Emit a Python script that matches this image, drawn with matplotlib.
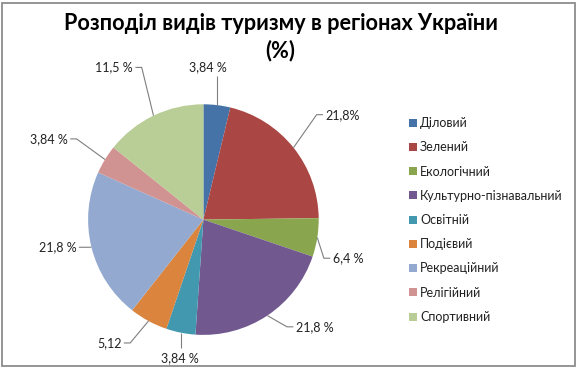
import numpy as np
import matplotlib
matplotlib.use("Agg")
import matplotlib.pyplot as plt
from matplotlib.patches import Rectangle

# ---- data (slice shares, printed labels as shown) ----
categories = ["Діловий", "Зелений", "Екологічний", "Культурно-пізнавальний",
              "Освітній", "Подієвий", "Рекреаційний", "Релігійний", "Спортивний"]
shares = [3.75, 21.05, 5.4, 20.9, 4.1, 5.4, 21.1, 4.05, 14.25]
value_labels = ["3,84 %", "21,8%", "6,4 %", "21,8 %", "3,84 %", "5,12",
                "21,8 %", "3,84 %", "11,5 %"]
colors = ["#4572A7", "#AA4643", "#89A54E", "#71588F", "#4198AF",
          "#DB843D", "#93A9CF", "#D19392", "#B9CD96"]
title = "Розподіл видів туризму в регіонах України\n(%)"

# ---- layout ----
W, H = 577, 369
plt.rcParams['font.family'] = ['Lato', 'DejaVu Sans']
fig = plt.figure(figsize=(W / 100, H / 100), dpi=100)
ax = fig.add_axes([0, 0, 1, 1])

cx, cy, R = 203.4, H - 219.6, 115.3  # pie centre / radius in pixels
wedges, _ = ax.pie(shares, colors=colors, startangle=90, counterclock=False,
                   radius=1, wedgeprops=dict(linewidth=0))
ax.set_xlim(-cx / R, (W - cx) / R)
ax.set_ylim(-cy / R, (H - cy) / R)
ax.set_aspect('auto')
ax.axis('off')

# label placement (data units relative to pie radius)
label_pos = [(0.04, 1.32, 'center'), (1.057, 0.91, 'left'), (1.12, -0.335, 'left'),
             (0.80, -0.93, 'left'), (-0.20, -1.20, 'center'), (-0.71, -1.07, 'right'),
             (-1.10, -0.24, 'right'), (-1.175, 0.70, 'right'), (-0.61, 1.32, 'right')]
lead_col = '#7f7f7f'
for w, txt, (tx, ty, ha) in zip(wedges, value_labels, label_pos):
    th = np.deg2rad((w.theta1 + w.theta2) / 2)
    axp, ayp = np.cos(th), np.sin(th)
    if ha == 'center':
        ey = ty - 0.078 if ty > 0 else ty + 0.085
        xs, ys = [axp, axp], [ayp, ey]
    else:
        s = -1 if ha == 'left' else 1
        edge = tx + s * 0.02
        elbow = tx + s * 0.075
        xs, ys = [axp, elbow, edge], [ayp, ty, ty]
    ax.plot(xs, ys, color=lead_col, lw=0.8, solid_capstyle='butt')
    ax.text(tx, ty, txt, ha=ha, va='center', fontsize=9, color='#222222')

fig.text(280.5 / W, 1 - 37 / H, title, ha='center', va='center', fontsize=15.6,
         fontweight='bold', color='black', linespacing=1.32)

fig.legend(wedges, categories, loc='upper left', bbox_to_anchor=(409 / W, 1 - 117 / H),
           frameon=False, fontsize=9, handlelength=0.6, handleheight=0.6,
           handletextpad=0.3, labelspacing=0.98, borderpad=0, borderaxespad=0,
           labelcolor='#222222')

fig.patches.append(Rectangle((2 / W, 3 / H), 573 / W, 363 / H, transform=fig.transFigure,
                             fill=False, edgecolor='#8c8c8c', lw=1.3))

fig.savefig("out.png", dpi=100)
